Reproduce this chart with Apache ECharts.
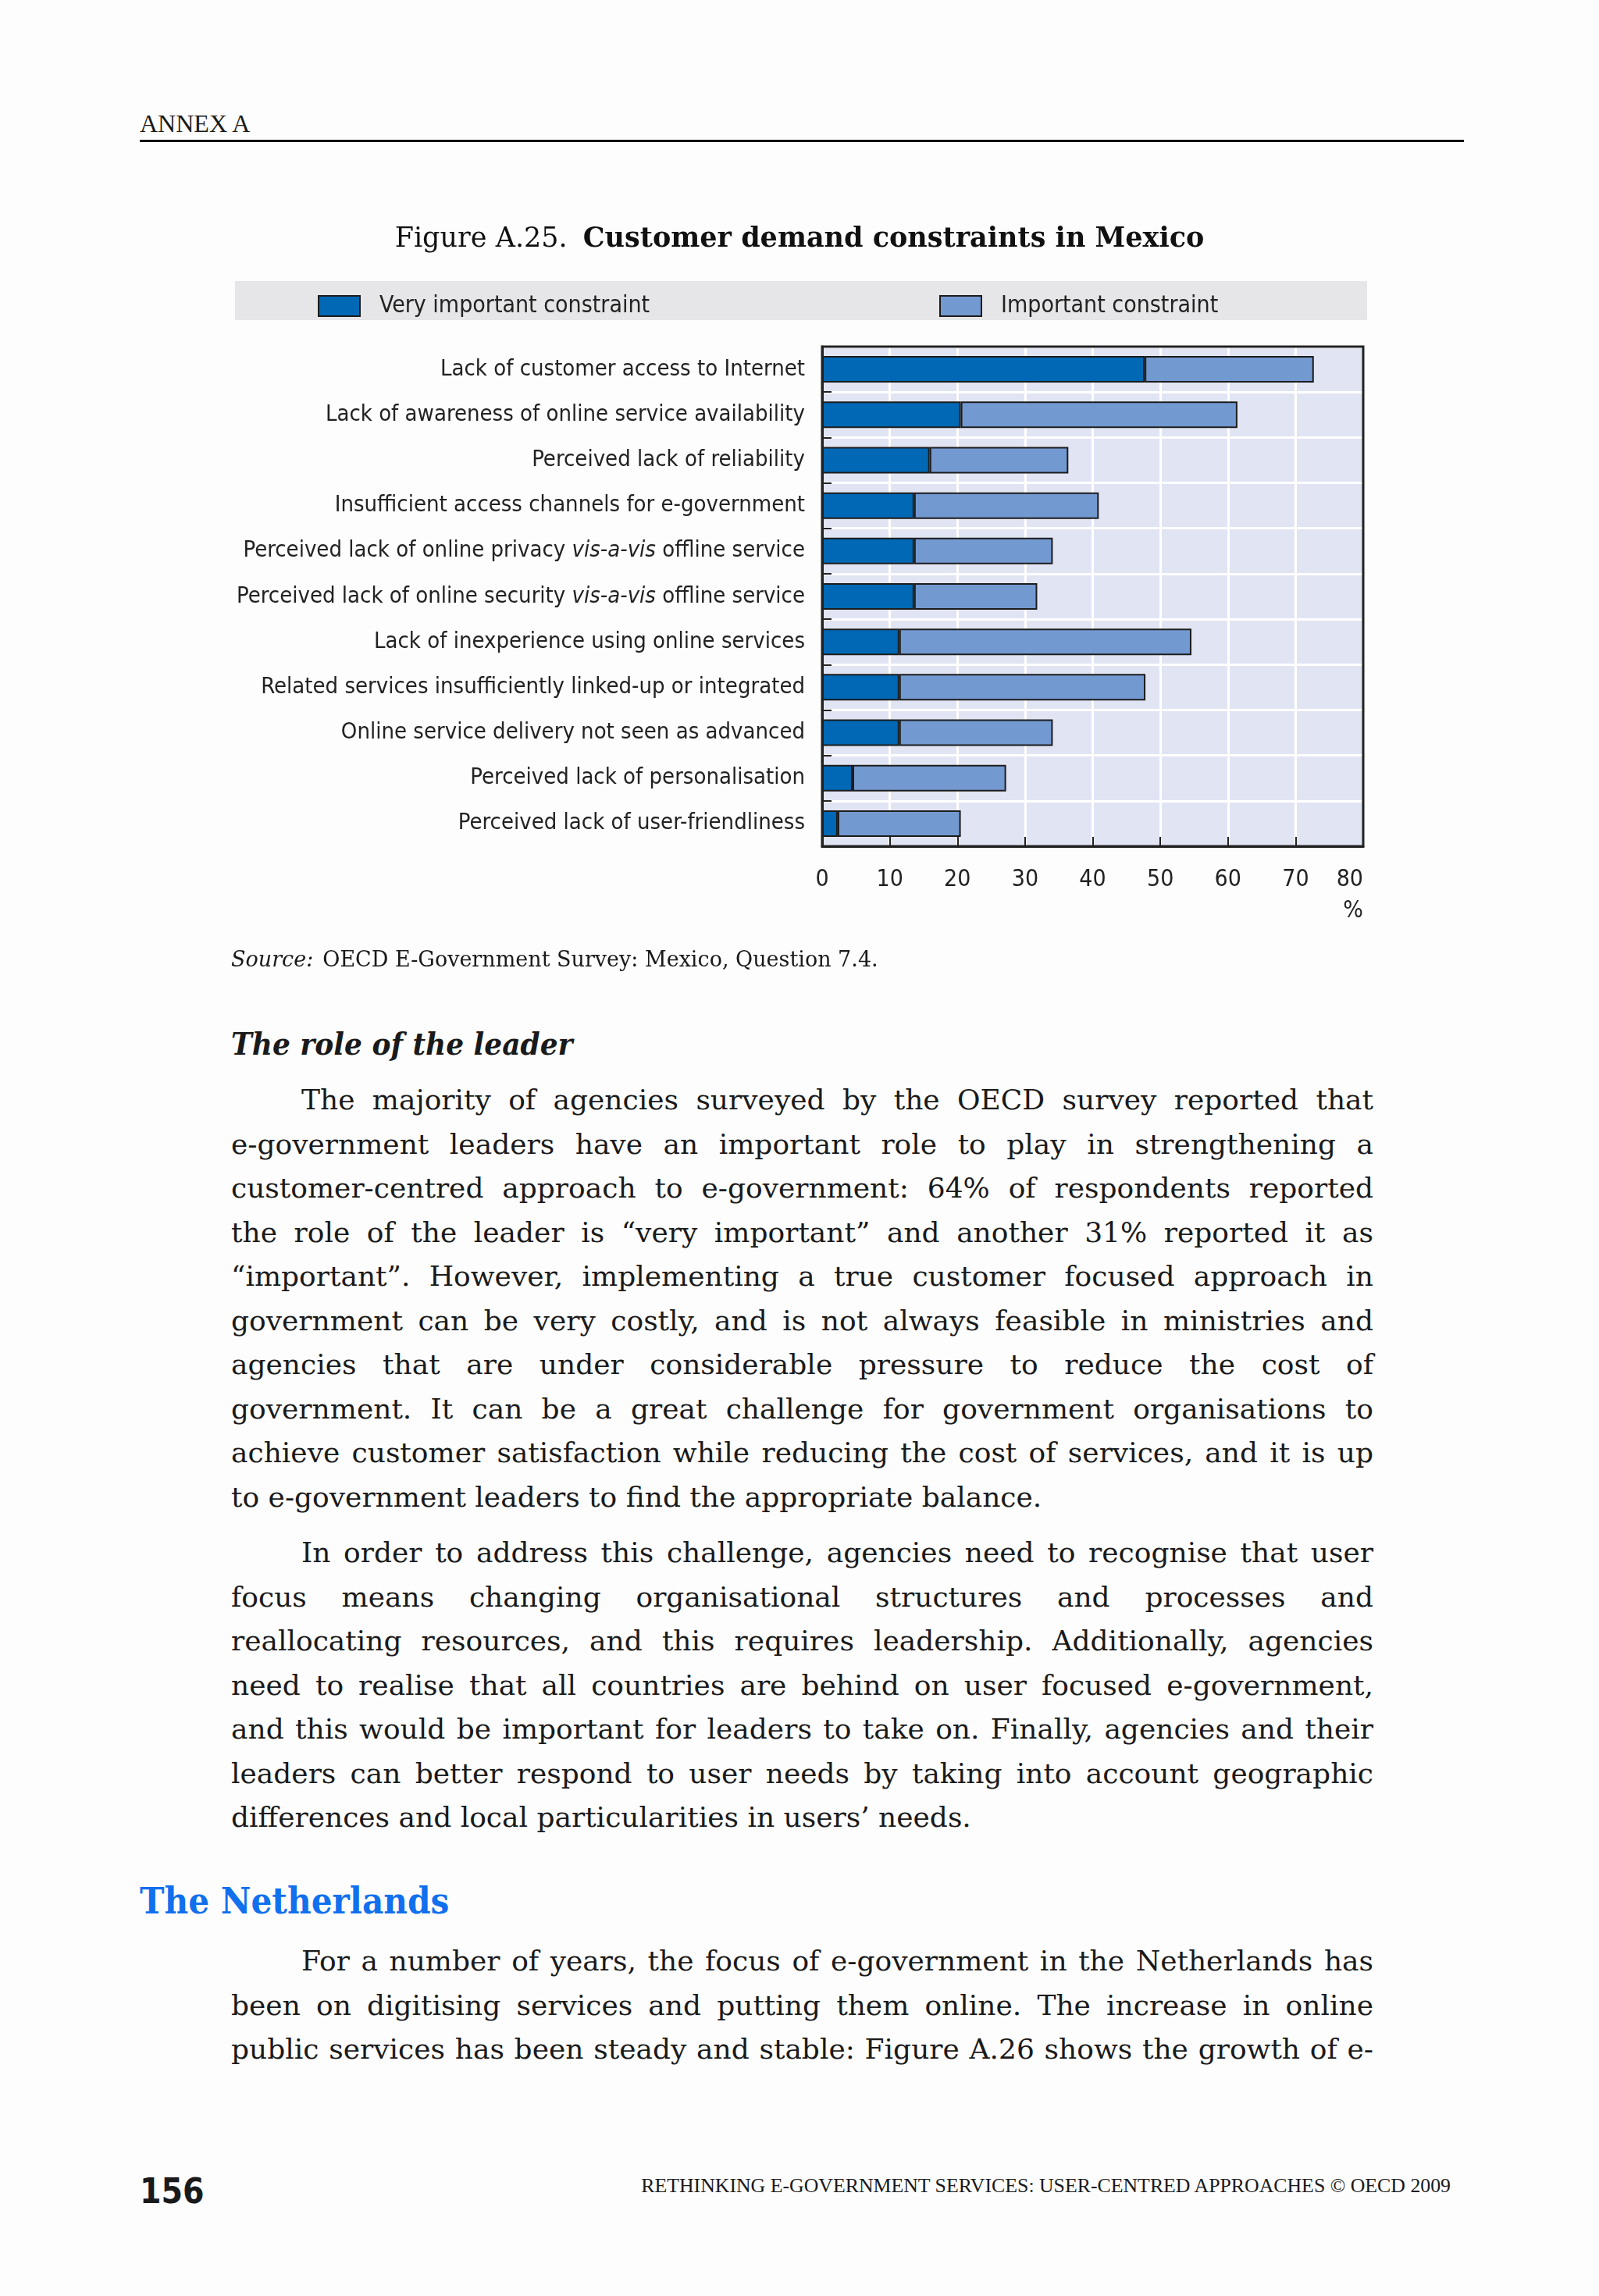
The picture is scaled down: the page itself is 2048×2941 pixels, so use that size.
<!DOCTYPE html>
<html>
<head>
<meta charset="utf-8">
<script src="https://cdn.jsdelivr.net/npm/echarts@6/dist/echarts.min.js"></script>
<style>
  html, body { margin:0; padding:0; background:#fdfdfd; }
  #page { position:relative; width:2048px; height:2941px; background:#fdfdfd; color:#1a1a1a; overflow:hidden; }
  .abs { position:absolute; white-space:nowrap; }
  .serif { font-family: "DejaVu Serif", "Liberation Serif", serif; }
  .para { position:absolute; left:296px; width:1463px; font-family:"DejaVu Serif", serif; font-size:36px; color:#1a1a1a; }
  .para .ln { height:56.5px; line-height:56.5px; white-space:nowrap; text-align:justify; text-align-last:justify; overflow:visible; }
  .para .ln.ind { padding-left:90px; }
  .para .ln.last { text-align-last:left; }
  #chart { position:absolute; left:280px; top:270px; width:1520px; height:1000px; }
</style>
</head>
<body>
<div id="page">
  <div class="abs serif" style="left:179px; top:138px; font-size:32px; line-height:40px; font-family:'Liberation Serif',serif;">ANNEX A</div>
  <div class="abs" style="left:179px; top:179px; width:1696px; height:3px; background:#111;"></div>

  <div id="chart"></div>

  <div class="abs" style="left:296px; top:1310px; font-size:40px; line-height:54px; font-weight:bold; font-style:italic; font-family:'DejaVu Serif Condensed','DejaVu Serif',serif;">The role of the leader</div>

  <div class="para" id="p1" style="top:1381px;">
    <div class="ln ind">The majority of agencies surveyed by the OECD survey reported that</div>
    <div class="ln">e-government leaders have an important role to play in strengthening a</div>
    <div class="ln">customer-centred approach to e-government: 64% of respondents reported</div>
    <div class="ln">the role of the leader is “very important” and another 31% reported it as</div>
    <div class="ln">“important”. However, implementing a true customer focused approach in</div>
    <div class="ln">government can be very costly, and is not always feasible in ministries and</div>
    <div class="ln">agencies that are under considerable pressure to reduce the cost of</div>
    <div class="ln">government. It can be a great challenge for government organisations to</div>
    <div class="ln">achieve customer satisfaction while reducing the cost of services, and it is up</div>
    <div class="ln last">to e-government leaders to find the appropriate balance.</div>
  </div>

  <div class="para" id="p2" style="top:1961px;">
    <div class="ln ind">In order to address this challenge, agencies need to recognise that user</div>
    <div class="ln">focus means changing organisational structures and processes and</div>
    <div class="ln">reallocating resources, and this requires leadership. Additionally, agencies</div>
    <div class="ln">need to realise that all countries are behind on user focused e-government,</div>
    <div class="ln">and this would be important for leaders to take on. Finally, agencies and their</div>
    <div class="ln">leaders can better respond to user needs by taking into account geographic</div>
    <div class="ln last">differences and local particularities in users’ needs.</div>
  </div>

  <div class="abs" style="left:179px; top:2407px; font-size:47px; line-height:56px; font-weight:bold; color:#1170ee; font-family:'DejaVu Serif Condensed','DejaVu Serif',serif;">The Netherlands</div>

  <div class="para" id="p3" style="top:2484px;">
    <div class="ln ind">For a number of years, the focus of e-government in the Netherlands has</div>
    <div class="ln">been on digitising services and putting them online. The increase in online</div>
    <div class="ln">public services has been steady and stable: Figure A.26 shows the growth of e-</div>
  </div>

  <div class="abs" style="left:179px; top:2782px; font-size:44px; line-height:50px; font-weight:bold; font-family:'DejaVu Sans Condensed','DejaVu Sans',sans-serif;">156</div>
  <div class="abs" style="right:190px; top:2785px; font-size:25.8px; line-height:30px; font-family:'Liberation Serif',serif;">RETHINKING E-GOVERNMENT SERVICES: USER-CENTRED APPROACHES © OECD 2009</div>
</div>

<script>
// ---- data ----
const categories = [
  "Lack of customer access to Internet",
  "Lack of awareness of online service availability",
  "Perceived lack of reliability",
  "Insufficient access channels for e-government",
  "Perceived lack of online privacy vis-a-vis offline service",
  "Perceived lack of online security vis-a-vis offline service",
  "Lack of inexperience using online services",
  "Related services insufficiently linked-up or integrated",
  "Online service delivery not seen as advanced",
  "Perceived lack of personalisation",
  "Perceived lack of user-friendliness"
];
const veryImportant = [47.7, 20.5, 15.9, 13.6, 13.6, 13.6, 11.4, 11.4, 11.4, 4.5, 2.3];
const important     = [25.0, 40.9, 20.5, 27.3, 20.5, 18.2, 43.2, 36.4, 22.7, 22.7, 18.2];
const seriesNames = ["Very important constraint", "Important constraint"];
const xMin = 0, xMax = 80, xStep = 10;
const titlePrefix = "Figure A.25.";
const titleMain = "Customer demand constraints in Mexico";
const sourceLabel = "Source:";
const sourceText = "OECD E-Government Survey: Mexico, Question 7.4.";
const unitLabel = "%";

// ---- layout ----
const NARROW = '"Liberation Sans Narrow", "DejaVu Sans Condensed", "Roboto Condensed", sans-serif';
const SERIF = '"DejaVu Serif", "Liberation Serif", serif';
const G = { left: 773, top: 174, width: 693, height: 640 };
const DARK = '#0068b4', LIGHT = '#7399d1', EDGE = '#1c1c1c', INK = '#222';

const chart = echarts.init(document.getElementById('chart'), null, { renderer: 'canvas' });

function catLabel(v) {
  if (v.indexOf('vis-a-vis') >= 0) {
    return v.split('vis-a-vis').map(s => '{n|' + s + '}').join('{i|vis-a-vis}');
  }
  return '{n|' + v + '}';
}

const option = {
  animation: false,
  backgroundColor: 'transparent',
  grid: {
    left: G.left, top: G.top, width: G.width, height: G.height,
    containLabel: false, outerBoundsMode: 'none',
    show: true, backgroundColor: '#e1e4f3', borderWidth: 0
  },
  legend: [
    {
      data: [seriesNames[0]], left: 122, top: 102, itemWidth: 53, itemHeight: 26, icon: 'rect',
      selectedMode: false,
      textStyle: { fontFamily: NARROW, fontSize: 30, color: INK, padding: [0, 0, 0, 20] }
    },
    {
      data: [seriesNames[1]], left: 918, top: 102, itemWidth: 53, itemHeight: 26, icon: 'rect',
      selectedMode: false,
      textStyle: { fontFamily: NARROW, fontSize: 30, color: INK, padding: [0, 0, 0, 20] }
    }
  ],
  xAxis: {
    type: 'value', min: xMin, max: xMax, interval: xStep,
    axisLine: { show: true, lineStyle: { color: INK, width: 3 } },
    axisTick: { show: true, inside: true, length: 12, lineStyle: { color: INK, width: 2 } },
    splitLine: { show: true, lineStyle: { color: '#ffffff', width: 3 } },
    axisLabel: { margin: 28, fontFamily: NARROW, fontSize: 30, color: INK, alignMaxLabel: 'right' }
  },
  yAxis: {
    type: 'category', data: categories, inverse: true,
    axisLine: { show: true, lineStyle: { color: INK, width: 3 } },
    axisTick: { show: true, inside: true, length: 12, lineStyle: { color: INK, width: 2 } },
    splitLine: { show: true, lineStyle: { color: '#ffffff', width: 3 } },
    axisLabel: {
      margin: 22, formatter: catLabel,
      rich: {
        n: { fontFamily: NARROW, fontSize: 29, color: INK },
        i: { fontFamily: NARROW, fontSize: 29, color: INK, fontStyle: 'italic' }
      }
    }
  },
  series: [
    {
      name: seriesNames[0], type: 'bar', stack: 'total', data: veryImportant, barWidth: 34,
      itemStyle: { color: DARK, borderColor: EDGE, borderWidth: 2 }
    },
    {
      name: seriesNames[1], type: 'bar', stack: 'total', data: important, barWidth: 34,
      itemStyle: { color: LIGHT, borderColor: EDGE, borderWidth: 2 }
    }
  ],
  graphic: [
    {
      type: 'rect', z: -10, silent: true,
      shape: { x: 21, y: 90, width: 1450, height: 50 },
      style: { fill: '#e6e6e8' }
    },
    {
      type: 'rect', z: 100, silent: true,
      shape: { x: G.left, y: G.top, width: G.width, height: G.height },
      style: { fill: 'none', stroke: INK, lineWidth: 3 }
    },
    {
      type: 'text', x: 744, y: 37, silent: true,
      style: {
        text: '{a|' + titlePrefix + '}{g| }{b|' + titleMain + '}',
        align: 'center', verticalAlign: 'middle',
        rich: {
          a: { fontFamily: SERIF, fontSize: 35, fill: '#111' },
          g: { fontFamily: SERIF, fontSize: 35, width: 20 },
          b: { fontFamily: SERIF, fontSize: 35, fontWeight: 'bold', fill: '#111' }
        }
      }
    },
    {
      type: 'text', x: 1453, y: 897, silent: true,
      style: { text: unitLabel, align: 'center', verticalAlign: 'middle', fontFamily: NARROW, fontSize: 30, fill: INK }
    },
    {
      type: 'text', x: 16, y: 961, silent: true,
      style: {
        text: '{s|' + sourceLabel + '}{g| }{t|' + sourceText + '}',
        align: 'left', verticalAlign: 'middle',
        rich: {
          s: { fontFamily: SERIF, fontSize: 27, fontStyle: 'italic', fill: '#1a1a1a' },
          g: { fontFamily: SERIF, fontSize: 27, width: 12 },
          t: { fontFamily: SERIF, fontSize: 27, fill: '#1a1a1a' }
        }
      }
    }
  ]
};
chart.setOption(option);

// shrink any paragraph line whose natural width exceeds the column
document.querySelectorAll('.para .ln').forEach(el => {
  const span = document.createElement('span');
  span.textContent = el.textContent;
  span.style.whiteSpace = 'nowrap';
  span.style.visibility = 'hidden';
  span.style.position = 'absolute';
  el.parentNode.appendChild(span);
  const avail = 1463 - (el.classList.contains('ind') ? 90 : 0);
  const w = span.getBoundingClientRect().width;
  span.remove();
  if (w > avail) {
    el.style.letterSpacing = (-(w - avail) / el.textContent.length) + 'px';
  }
});
</script>
</body>
</html>
